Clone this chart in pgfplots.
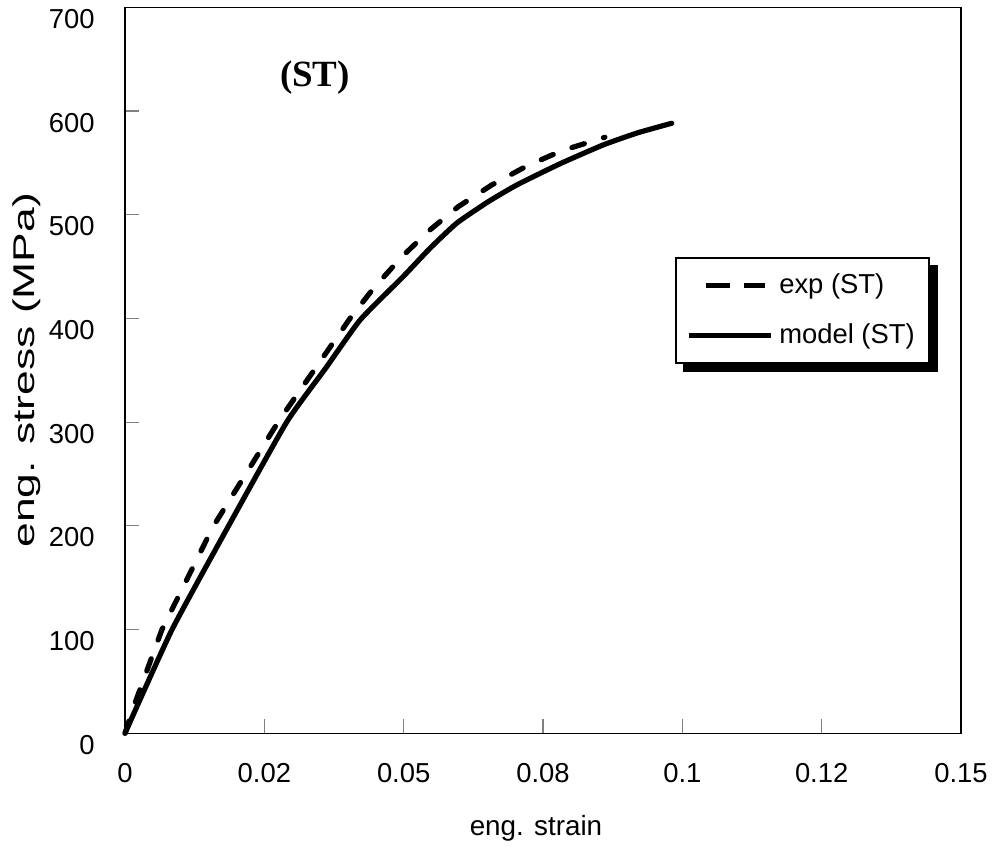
\documentclass[border=0pt]{standalone}
\usepackage{fontspec}
\setmainfont{Liberation Sans}
\newfontfamily\timesfont{Liberation Serif}
\usepackage{graphicx}
\usepackage{pgfplots}
\pgfplotsset{compat=1.18}
\usetikzlibrary{backgrounds}

\pgfplotsset{
  explegend/.style={legend image code/.code={
    \path (0bp,0bp) (41bp,0bp);
    \draw[##1,line cap=butt,dash pattern=on 12bp off 7bp] (8.5bp,0bp) -- (38bp,0bp);}},
  modlegend/.style={legend image code/.code={
    \draw[##1,line cap=butt] (0bp,0bp) -- (41bp,0bp);}},
}

\begin{document}
\begin{tikzpicture}
\begin{axis}[
  scale only axis, width=418bp, height=363bp,
  xmin=0, xmax=0.15, ymin=0, ymax=700,
  clip=false,
  axis line style={black, line width=0.6bp},
  tick align=inside, tickpos=left, major tick length=7bp,
  tick style={gray, line width=0.6bp},
  xtick={0,0.025,0.05,0.075,0.1,0.125,0.15},
  xticklabels={0,0.02,0.05,0.08,0.1,0.12,0.15},
  ytick={0,100,...,700},
  yticklabels={0,100,200,300,400,500,600,700},
  every tick label/.append style={font=\fontsize{13.7bp}{16bp}\selectfont},
  xticklabel style={anchor=north, inner sep=0pt, yshift=-14.8bp},
  yticklabel style={anchor=east, inner sep=0pt, xshift=-15bp, yshift=-5.8bp},
  xlabel={eng. strain},
  ylabel={\scalebox{1.48}[1]{eng. stress (MPa)}},
  xlabel style={font=\fontsize{13.9bp}{16bp}\selectfont, at={(axis description cs:0.4916,-0.1315)}, anchor=center},
  ylabel style={font=\fontsize{15bp}{18bp}\selectfont, at={(axis description cs:-0.1172,0.5)}, anchor=center},
  legend style={name=leg, at={(axis description cs:0.658,0.656)}, anchor=north west,
    draw=black, line width=1bp, fill=white,
    inner xsep=5bp, inner ysep=3bp, row sep=3.5bp, column sep=1bp,
    font=\fontsize{13.7bp}{16bp}\selectfont,
    nodes={inner xsep=2bp, inner ysep=4bp, text height=10.5bp, text depth=3bp}},
  legend cell align=left,
]
\addplot[black, line width=2.6bp, dash pattern=on 6.5bp off 10bp, line cap=round, line join=round, explegend]
  coordinates {(0,0) (0.0018,29.2) (0.0066,99.6) (0.0158,199.2) (0.0276,301.2)
    (0.0404,400.2) (0.0446,429.1) (0.0497,459.6) (0.0547,485.3) (0.0598,507.8)
    (0.0658,528.7) (0.0721,547.0) (0.0784,561.8) (0.0846,572.1) (0.0861,574.7)};
\addlegendentry{exp (ST)}
\addplot[black, line width=2.6bp, line join=round, line cap=round, smooth, tension=0.3, modlegend]
  coordinates {(0,0) (0.0084,99.6) (0.0185,199.2) (0.0290,300.0) (0.0360,352.0)
    (0.0422,398.6) (0.0499,440.3) (0.0547,467.5) (0.0595,491.8) (0.0650,512.0)
    (0.0703,528.7) (0.0780,549.0) (0.0858,567.3) (0.0920,579.0) (0.0981,588.2)};
\addlegendentry{model (ST)}
\node[font=\timesfont\bfseries\fontsize{18.5bp}{22bp}\selectfont] at (axis cs:0.0341,631.9) {(ST)};
\coordinate (bl) at (rel axis cs:0,0);
\coordinate (tr) at (rel axis cs:1,1);
\end{axis}
\begin{scope}[on background layer]
\fill[black] ([xshift=4bp,yshift=-4bp]leg.south west) rectangle ([xshift=4bp,yshift=-4bp]leg.north east);
\end{scope}
\path (bl) ++(-62.5bp,-57.35bp);
\path (tr) ++(17bp,3.65bp);
\end{tikzpicture}
\end{document}
